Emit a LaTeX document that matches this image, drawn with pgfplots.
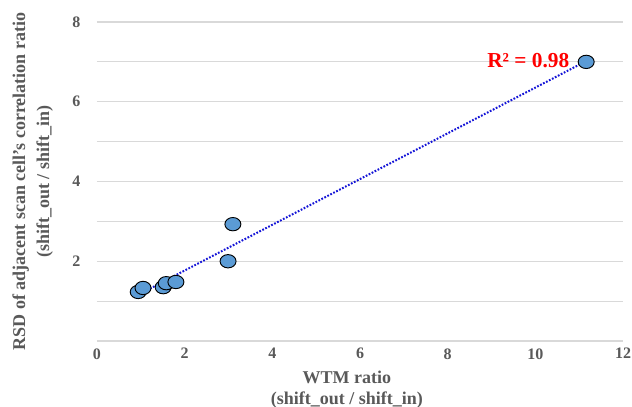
\documentclass[border=0pt]{standalone}
\usepackage{pgfplots}
\pgfplotsset{compat=1.18}
\usepackage{fontspec}
\setmainfont{Liberation Serif}
\definecolor{txtgray}{HTML}{595959}
\definecolor{gridgray}{HTML}{D9D9D9}
\definecolor{ptblue}{HTML}{5B9BD5}
\definecolor{trendblue}{RGB}{20,20,215}

\begin{document}
\begin{tikzpicture}
\useasboundingbox (-72.75pt,-49.5pt) rectangle (401.25pt,255.75pt);
\begin{axis}[
  scale only axis,
  width=394.5pt,
  height=239.25pt,
  xmin=0, xmax=12,
  ymin=0, ymax=8,
  xtick={0,2,...,12},
  ytick={0,1,...,8},
  yticklabels={,,2,,4,,6,,8},
  axis line style={draw=none},
  major tick length=0pt,
  ymajorgrids,
  grid style={gridgray, line width=0.8pt},
  /pgf/number format/assume math mode=true,
  ticklabel style={font=\fontsize{12}{12}\selectfont\bfseries, text=txtgray},
  xticklabel style={yshift=-2pt},
  yticklabel style={xshift=-9pt},
  xlabel={WTM ratio\\(shift\_out / shift\_in)},
  ylabel={RSD of adjacent scan cell's correlation ratio\\(shift\_out / shift\_in)},
  every axis x label/.style={at={(rel axis cs:0.475,0)}, anchor=north, yshift=-19pt,
    align=center, font=\fontsize{13.5}{16}\selectfont\bfseries, text=txtgray},
  every axis y label/.style={at={(rel axis cs:0,0.5)}, xshift=-29.5pt, rotate=90, anchor=south,
    align=center, font=\fontsize{13.5}{18}\selectfont\bfseries, text=txtgray},
  clip=false,
]
\addplot[only marks, mark=*, mark size=5pt,
  mark options={xscale=1.2, fill=ptblue, draw=black, line width=0.7pt}]
  coordinates {
    (0.94,1.23) (1.05,1.33) (1.51,1.35) (1.58,1.45)
    (1.80,1.48) (2.99,2.00) (3.10,2.93) (11.16,7.00)
  };
%% linear trendline (least squares fit of the points above)
\addplot[trendblue, line width=1.5pt, dash pattern=on 1.3pt off 1.2pt]
  coordinates {(0.94,1.16) (11.16,7.02)};
\node[font=\fontsize{16}{16}\selectfont\bfseries, text=red] at (axis cs:9.84,7.04) {R² = 0.98};
\end{axis}
\end{tikzpicture}
\end{document}
